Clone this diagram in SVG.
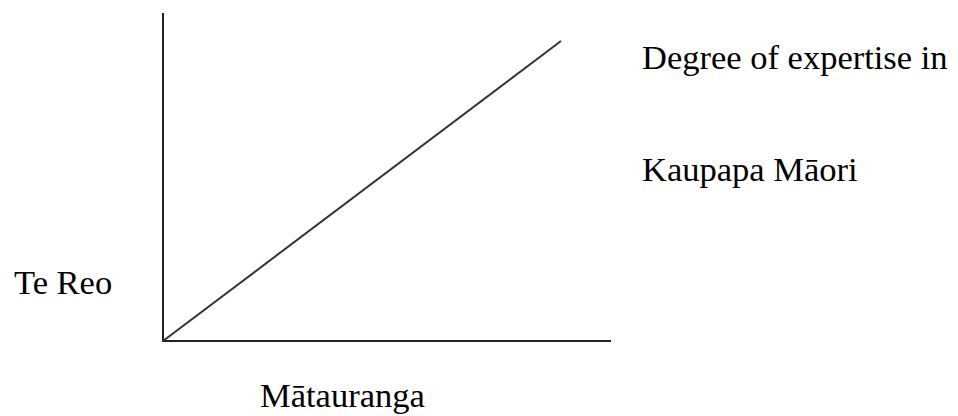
<svg xmlns="http://www.w3.org/2000/svg" width="958" height="416" viewBox="0 0 958 416">
<style>
text{font-family:"Liberation Serif","Times New Roman","DejaVu Serif",serif;font-size:34.5px;fill:#000}
.ax{stroke:#222;stroke-width:2;fill:none}
.ln{stroke:#333;stroke-width:2;fill:none}
</style>
<rect width="958" height="416" fill="#fff"/>
<g id="axes">
<line class="ax" x1="163" y1="13" x2="163" y2="342"/>
<line class="ax" x1="162" y1="341" x2="611" y2="341"/>
</g>
<g id="connectors">
<line class="ln" x1="163" y1="341" x2="561" y2="41"/>
</g>
<g id="label-degree"><text x="642" y="69">Degree of expertise in</text></g>
<g id="label-kaupapa"><text x="642" y="181">Kaupapa Māori</text></g>
<g id="label-tereo"><text x="14" y="294">Te Reo</text></g>
<g id="label-matauranga"><text x="260" y="407">Mātauranga</text></g>
</svg>
